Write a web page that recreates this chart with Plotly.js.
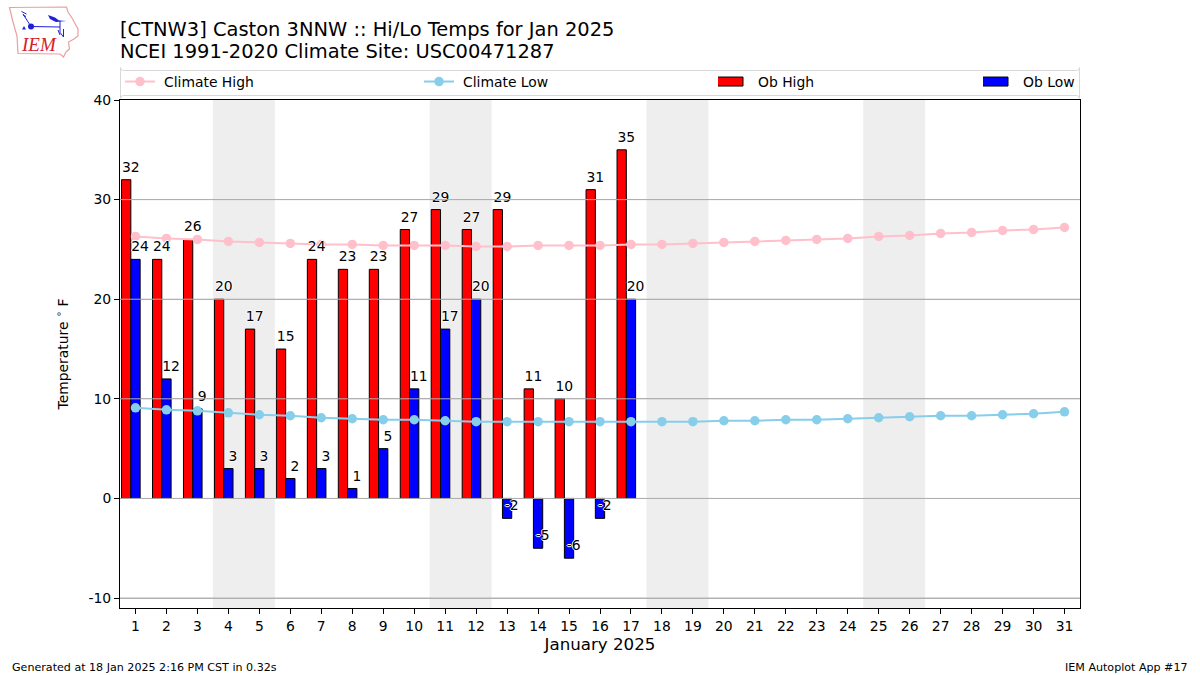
<!DOCTYPE html>
<html><head><meta charset="utf-8">
<script src="https://cdn.plot.ly/plotly-3.0.1.min.js"></script>
<style>html,body{margin:0;padding:0;background:#fff}
.legendpoints path{stroke-linejoin:miter !important}
.legendlines,.legendsymbols{transform:translate(-4px,0)}
</style></head>
<body><div id="chart" style="width:1200px;height:675px"></div>
<script>
const days = Array.from({length:31},(_,i)=>i+1);
const obDays = [1,2,3,4,5,6,7,8,9,10,11,12,13,14,15,16,17];
const obHigh = [32,24,26,20,17,15,24,23,23,27,29,27,29,11,10,31,35];
const obLow = [24,12,9,3,3,2,3,1,5,11,17,20,-2,-5,-6,-2,20];
const climateHigh = [26.3,26.1,26.0,25.8,25.7,25.6,25.5,25.5,25.4,25.4,25.4,25.3,25.3,25.4,25.4,25.4,25.5,25.5,25.6,25.7,25.8,25.9,26.0,26.1,26.3,26.4,26.6,26.7,26.9,27.0,27.2];
const climateLow = [9.1,8.9,8.8,8.6,8.4,8.3,8.1,8.0,7.9,7.9,7.8,7.7,7.7,7.7,7.7,7.7,7.7,7.7,7.7,7.8,7.8,7.9,7.9,8.0,8.1,8.2,8.3,8.3,8.4,8.5,8.7];
const weekends = [[3.5,5.5],[10.5,12.5],[17.5,19.5],[24.5,26.5]];
const yTicks = [-10,0,10,20,30,40];

const FONT = 'DejaVu Sans, sans-serif';
const L=120,R=1080,T=100,B=608;
const px = x => (x-L)/(R-L);
const py = y => (B-y)/(B-T);
const BARW = 0.3, LBLDY = 0.45;
const halo = '1px 0 0.5px #fff, -1px 0 0.5px #fff, 0 1px 0.5px #fff, 0 -1px 0.5px #fff';

const traces = [
 {type:'bar',name:'Ob High',x:obDays,y:obHigh,width:BARW,offset:-0.45,marker:{color:'#ff0000',line:{color:'#000',width:1}},legend:'legend3',hoverinfo:'y'},
 {type:'bar',name:'Ob Low',x:obDays,y:obLow,width:BARW,offset:-0.15,marker:{color:'#0000ff',line:{color:'#000',width:1}},legend:'legend4',hoverinfo:'y'},
 {type:'scatter',mode:'lines+markers',name:'Climate High',x:days,y:climateHigh,line:{color:'#ffc0cb',width:2},marker:{color:'#ffc0cb',size:9.5},legend:'legend'},
 {type:'scatter',mode:'lines+markers',name:'Climate Low',x:days,y:climateLow,line:{color:'#87ceeb',width:2},marker:{color:'#87ceeb',size:9.5},legend:'legend2'},
 {type:'scatter',mode:'text',x:obDays.map(d=>d-0.15),y:obHigh.map(v=>v+LBLDY),text:obHigh.map(String),textposition:'top center',textfont:{family:FONT,size:13.9,color:'#000',shadow:halo},showlegend:false,hoverinfo:'skip',cliponaxis:false},
 {type:'scatter',mode:'text',x:obDays.map(d=>d+0.15),y:obLow.map(v=>v+LBLDY),text:obLow.map(String),textposition:'top center',textfont:{family:FONT,size:13.9,color:'#000',shadow:halo},showlegend:false,hoverinfo:'skip',cliponaxis:false}
];

const shapes = [];
weekends.forEach(w=>shapes.push({type:'rect',xref:'x',yref:'paper',x0:w[0],x1:w[1],y0:0,y1:1,fillcolor:'#eeeeee',line:{width:0},layer:'below'}));
yTicks.filter(v=>v>-11&&v<40).forEach(v=>shapes.push({type:'line',xref:'paper',yref:'y',x0:0,x1:1,y0:v,y1:v,line:{color:'#b0b0b0',width:1},layer:'above'}));
// legend frame
const x0=px(120.5),x1=px(1079.5),y0=py(70.5),y1=py(95.5),rx=3/960,ry=3/508;
shapes.push({type:'path',xref:'paper',yref:'paper',layer:'above',line:{color:'#d8d8d8',width:1},fillcolor:'rgba(0,0,0,0)',
  path:`M${x0+rx},${y1}L${x1-rx},${y1}Q${x1},${y1} ${x1},${y1-ry}L${x1},${y0+ry}Q${x1},${y0} ${x1-rx},${y0}L${x0+rx},${y0}Q${x0},${y0} ${x0},${y0+ry}L${x0},${y1-ry}Q${x0},${y1} ${x0+rx},${y1}Z`});

const logo = `<svg xmlns="http://www.w3.org/2000/svg" width="80" height="60" viewBox="0 0 80 60">
<path d="M9.5,7.5 L66.5,7 L68,12 L72,18 L78,29 L78,36 L74,39 L68.5,42 L69.5,49 L66,52 L63.5,57 L60,54 L18,53.5 L17,36 L13,22 Z" fill="none" stroke="#e9a0a0" stroke-width="1.2"/>
<g stroke="#2020d8" fill="#2020d8" stroke-width="1">
<path d="M31,26.5 L60,27 M31,26.5 L23,14 M21.5,11.5 L26.5,14 M23,15 L26,16.5 M60,20.5 L60,33" fill="none"/>
<circle cx="31" cy="26.5" r="3" stroke="none"/>
<path d="M48,15 L55,17.5 L59,20.5 L66.5,21 L56,22 L50,19 Z" stroke="none"/>
<path d="M58,30 L60,35 M63.5,29 L63.5,37 M60.5,33 L63.5,37" fill="none"/>
<path d="M24,26 L26,29.5 L22,29.5 Z" stroke="none"/>
</g></svg>`;

const layout = {
 width:1200,height:675,autosize:false,paper_bgcolor:'#fff',plot_bgcolor:'#fff',
 font:{family:FONT,size:13.9,color:'#000'},
 margin:{l:L,r:1200-R,t:T,b:675-B,pad:0},
 barmode:'overlay',showlegend:true,hovermode:false,
 title:{text:'[CTNW3] Caston 3NNW :: Hi/Lo Temps for Jan 2025<br>NCEI 1991-2020 Climate Site: USC00471287',font:{family:FONT,size:19.45,color:'#000'},x:120/1200,xanchor:'left',xref:'container',y:1-29/675,yanchor:'middle',automargin:false},
 xaxis:{range:[0.5,31.5],tickmode:'array',tickvals:days,ticktext:days.map(String),ticks:'outside',ticklen:5,tickwidth:1,tickcolor:'#000',showgrid:false,zeroline:false,showline:true,mirror:true,linecolor:'#000',linewidth:1,tickangle:0,
  title:{text:'January 2025',font:{family:FONT,size:16.67},standoff:5},tickfont:{family:FONT,size:13.9}},
 yaxis:{range:[-11,40],tickmode:'array',tickvals:yTicks,ticktext:yTicks.map(String),ticks:'outside',ticklen:5,tickwidth:1,tickcolor:'#000',showgrid:true,gridcolor:'#b0b0b0',gridwidth:1,zeroline:false,showline:true,mirror:true,linecolor:'#000',linewidth:1,
  title:{text:'Temperature <sup>∘</sup> F',font:{family:FONT,size:13.9},standoff:16},tickfont:{family:FONT,size:13.9}},
 legend:{x:px(124),y:py(82),xanchor:'left',yanchor:'middle',bgcolor:'rgba(0,0,0,0)',font:{family:FONT,size:13.9}},
 legend2:{x:px(423),y:py(82),xanchor:'left',yanchor:'middle',bgcolor:'rgba(0,0,0,0)',font:{family:FONT,size:13.9}},
 legend3:{x:px(718),y:py(82),xanchor:'left',yanchor:'middle',bgcolor:'rgba(0,0,0,0)',font:{family:FONT,size:13.9}},
 legend4:{x:px(983),y:py(82),xanchor:'left',yanchor:'middle',bgcolor:'rgba(0,0,0,0)',font:{family:FONT,size:13.9}},
 shapes:shapes,
 images:[{source:'data:image/svg+xml;utf8,'+encodeURIComponent(logo),xref:'paper',yref:'paper',x:px(0),y:py(0),sizex:80/960,sizey:60/508,xanchor:'left',yanchor:'top',sizing:'stretch',layer:'above'}],
 annotations:[
  {text:'IEM',xref:'paper',yref:'paper',x:px(19),y:py(45),xanchor:'left',yanchor:'middle',showarrow:false,font:{family:'Liberation Serif, serif',size:19,color:'#d42027',style:'italic'}},
  {text:'Generated at 18 Jan 2025 2:16 PM CST in 0.32s',xref:'paper',yref:'paper',x:px(12),y:py(667),xanchor:'left',yanchor:'middle',showarrow:false,xshift:-2,font:{family:FONT,size:11.1}},
  {text:'IEM Autoplot App #17',xref:'paper',yref:'paper',x:px(1188),y:py(667),xanchor:'right',yanchor:'middle',showarrow:false,xshift:2,font:{family:FONT,size:11.1}}
 ]
};
function tweak(){
  const t=document.querySelector('.gtitle');
  const lines=t?t.querySelectorAll('tspan.line'):[];
  if(lines.length>1){
    lines[0].setAttribute('y',29);lines[0].removeAttribute('dy');
    lines[1].setAttribute('y',58);lines[1].removeAttribute('dy');
  }
  document.querySelectorAll('.legendpoints path').forEach(p=>{
    if(/legendbar|legendundefined/.test(p.getAttribute('class')||'')){
      p.style.removeProperty('d');
      p.setAttribute('d','M14,4.5H-14V-4.5H14Z');
      p.setAttribute('transform','translate(15,0)');
      p.style.strokeWidth='1px';
    }
  });
}
Plotly.newPlot('chart',traces,layout,{displayModeBar:false,staticPlot:true}).then(()=>{
  tweak();
  setTimeout(tweak,50);
});
</script></body></html>
